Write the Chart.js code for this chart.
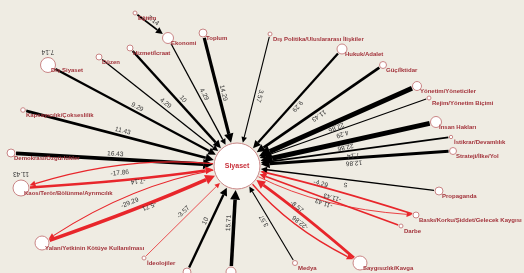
<!DOCTYPE html>
<html>
<head>
<meta charset="utf-8">
<script src="https://cdn.jsdelivr.net/npm/chart.js@4.4.0/dist/chart.umd.min.js"></script>
<style>
  html, body { margin: 0; padding: 0; background: #efece3; }
  canvas { display: block; }
</style>
</head>
<body>
<canvas id="agChart" width="524" height="273"></canvas>
<script>
// nodes (layout coordinates, weight)
const nodeNames = [
  'Siyaset', 'Eğitim', 'Ekonomi', 'Toplum', 'Hizmet/İcraat', 'Düzen', 'Dış Siyaset',
  'Kapsayıcılık/Çokseslilik', 'Demokrasi/Özgürlükler', 'Kaos/Terör/Bölünme/Ayrımcılık',
  'Yalan/Yetkinin Kötüye Kullanılması', 'İdeolojiler', 'Eşitlik', 'Gelecek', 'Medya',
  'Saygısızlık/Kavga', 'Darbe', 'Baskı/Korku/Şiddet/Gelecek Kaygısı', 'Propaganda',
  'Strateji/İlke/Yol', 'İstikrar/Devamlılık', 'İnsan Hakları', 'Rejim/Yönetim Biçimi',
  'Yönetim/Yöneticiler', 'Güç/İktidar', 'Hukuk/Adalet', 'Dış Politika/Uluslararası İlişkiler'
];
const nodeX = [237, 135, 168, 203, 130, 99, 48, 23, 11, 21, 42, 144, 187, 231, 295, 360, 401, 416, 439, 453, 451, 436, 429, 417, 383, 342, 270];
const nodeY = [166, 13, 38, 33, 48, 57, 65, 110, 153, 188, 243, 258, 272, 272, 263, 263, 226, 215, 191, 151, 137, 122, 98, 86, 65, 49, 34];
const nodeSize = [23, 2, 5.5, 4, 3, 3, 7.5, 2.3, 4, 8, 7, 2, 4, 5, 2.5, 7, 2, 3, 4, 3.5, 1.7, 5.5, 2, 4.5, 3.5, 5, 2];

// edges
const edgeFrom = [
  'Eğitim', 'Ekonomi', 'Toplum', 'Hizmet/İcraat', 'Düzen', 'Dış Siyaset',
  'Kapsayıcılık/Çokseslilik', 'Demokrasi/Özgürlükler',
  'Kaos/Terör/Bölünme/Ayrımcılık', 'Siyaset',
  'Yalan/Yetkinin Kötüye Kullanılması', 'Siyaset',
  'İdeolojiler', 'Eşitlik', 'Gelecek', 'Medya',
  'Saygısızlık/Kavga', 'Siyaset', 'Darbe',
  'Baskı/Korku/Şiddet/Gelecek Kaygısı', 'Siyaset',
  'Propaganda', 'Strateji/İlke/Yol', 'İstikrar/Devamlılık', 'İnsan Hakları',
  'Rejim/Yönetim Biçimi', 'Yönetim/Yöneticiler', 'Güç/İktidar', 'Hukuk/Adalet',
  'Dış Politika/Uluslararası İlişkiler'
];
const edgeTo = [
  'Ekonomi', 'Siyaset', 'Siyaset', 'Siyaset', 'Siyaset', 'Siyaset',
  'Siyaset', 'Siyaset',
  'Siyaset', 'Kaos/Terör/Bölünme/Ayrımcılık',
  'Siyaset', 'Yalan/Yetkinin Kötüye Kullanılması',
  'Siyaset', 'Siyaset', 'Siyaset', 'Siyaset',
  'Siyaset', 'Saygısızlık/Kavga', 'Siyaset',
  'Siyaset', 'Baskı/Korku/Şiddet/Gelecek Kaygısı',
  'Siyaset', 'Siyaset', 'Siyaset', 'Siyaset',
  'Siyaset', 'Siyaset', 'Siyaset', 'Siyaset',
  'Siyaset'
];
const edgeWeight = [
  7.14, 4.29, 14.29, 10, 4.29, 9.29,
  11.43, 16.43,
  -17.86, -7.14,
  -29.29, -5.71,
  -3.57, 10, 15.71, 3.57,
  -22.86, -8.57, -11.43,
  -11.43, -4.29,
  5, 12.86, 7.14, 22.86,
  4.29, 22.86, 11.43, 9.29,
  3.57
];

// self loops (only their labels show)
const loopNodes = ['Dış Siyaset', 'Kaos/Terör/Bölünme/Ayrımcılık'];
const loopWeights = [7.14, 11.43];

const idx = name => nodeNames.indexOf(name);

const edgePlugin = {
  id: 'edges',
  beforeDatasetsDraw(chart) {
    const ctx = chart.ctx, sx = chart.scales.x, sy = chart.scales.y;
    ctx.save();
    edgeFrom.forEach((from, k) => {
      const a = idx(from), b = idx(edgeTo[k]);
      const w = edgeWeight[k];
      const x1 = sx.getPixelForValue(nodeX[a]), y1 = sy.getPixelForValue(nodeY[a]);
      const x2 = sx.getPixelForValue(nodeX[b]), y2 = sy.getPixelForValue(nodeY[b]);
      const dx = x2 - x1, dy = y2 - y1;
      // curve the edge when the pair goes both ways
      let bend = 0;
      const r = edgeFrom.findIndex((f, j) => f === edgeTo[k] && edgeTo[j] === from);
      if (r >= 0) bend = Math.abs(w) >= Math.abs(edgeWeight[r]) ? 0.02 : 0.1;
      const cx = (x1 + x2) / 2 - dy * bend, cy = (y1 + y2) / 2 + dx * bend;
      let ux = cx - x1, uy = cy - y1, ul = Math.hypot(ux, uy);
      let vx = x2 - cx, vy = y2 - cy, vl = Math.hypot(vx, vy);
      ux /= ul; uy /= ul; vx /= vl; vy /= vl;
      const ra = nodeSize[a] + 1, rb = nodeSize[b] + 1;
      const sX = x1 + ux * ra, sY = y1 + uy * ra;
      const eX = x2 - vx * rb, eY = y2 - vy * rb;
      const lw = w < 0 ? 0.4 + Math.abs(w) * 0.11 : 0.4 + w * 0.2;
      const al = 4 + lw * 1.6, aw = 1.8 + lw * 0.9;
      const bX = eX - vx * al, bY = eY - vy * al;
      const col = w < 0 ? '#e8262b' : '#000000';
      ctx.strokeStyle = col;
      ctx.fillStyle = col;
      ctx.lineWidth = lw;
      ctx.beginPath();
      ctx.moveTo(sX, sY);
      if (bend) ctx.quadraticCurveTo(cx, cy, bX, bY);
      else ctx.lineTo(bX, bY);
      ctx.stroke();
      ctx.beginPath();
      ctx.moveTo(eX, eY);
      ctx.lineTo(bX - vy * aw, bY + vx * aw);
      ctx.lineTo(bX + vy * aw, bY - vx * aw);
      ctx.closePath();
      ctx.fill();
    });
    ctx.restore();
  },
  afterDatasetsDraw(chart) {
    const ctx = chart.ctx, sx = chart.scales.x, sy = chart.scales.y;
    ctx.save();
    // edge labels
    ctx.font = '6.5px "Liberation Sans", Arial, sans-serif';
    ctx.fillStyle = '#333333';
    ctx.textAlign = 'center';
    ctx.textBaseline = 'middle';
    edgeFrom.forEach((from, k) => {
      const a = idx(from), b = idx(edgeTo[k]);
      const x1 = sx.getPixelForValue(nodeX[a]), y1 = sy.getPixelForValue(nodeY[a]);
      const x2 = sx.getPixelForValue(nodeX[b]), y2 = sy.getPixelForValue(nodeY[b]);
      const t = 0.46;
      ctx.save();
      ctx.translate(x1 + (x2 - x1) * t, y1 + (y2 - y1) * t);
      ctx.rotate(Math.atan2(y2 - y1, x2 - x1));
      ctx.fillText(String(edgeWeight[k]), 0, -5);
      ctx.restore();
    });
    loopNodes.forEach((n, k) => {
      const i = idx(n);
      ctx.save();
      ctx.translate(sx.getPixelForValue(nodeX[i]), sy.getPixelForValue(nodeY[i]) - nodeSize[i] - 6);
      ctx.rotate(Math.PI);
      ctx.fillText(String(loopWeights[k]), 0, 0);
      ctx.restore();
    });
    // node labels
    nodeNames.forEach((n, i) => {
      const x = sx.getPixelForValue(nodeX[i]), y = sy.getPixelForValue(nodeY[i]);
      if (i === 0) {
        ctx.font = 'bold 7px "Liberation Sans", Arial, sans-serif';
        ctx.fillStyle = '#c8303a';
        ctx.textAlign = 'center';
        ctx.fillText(n, x, y);
      } else {
        ctx.font = 'bold 6px "Liberation Sans", Arial, sans-serif';
        ctx.fillStyle = '#a3343c';
        ctx.textAlign = 'left';
        ctx.fillText(n, x + 3, y + 5);
      }
    });
    ctx.restore();
  }
};

new Chart(document.getElementById('agChart').getContext('2d'), {
  type: 'scatter',
  data: {
    datasets: [{
      data: nodeNames.map((n, i) => ({ x: nodeX[i], y: nodeY[i] })),
      pointRadius: nodeSize,
      pointHoverRadius: nodeSize,
      pointBackgroundColor: '#ffffff',
      pointBorderColor: '#c98585',
      pointBorderWidth: 1,
      clip: false
    }]
  },
  options: {
    responsive: false,
    animation: false,
    layout: { padding: 0, autoPadding: false },
    scales: {
      x: { type: 'linear', min: 0, max: 524, display: false },
      y: { type: 'linear', min: 0, max: 273, reverse: true, display: false }
    },
    plugins: { legend: { display: false }, tooltip: { enabled: false } }
  },
  plugins: [edgePlugin]
});
</script>
</body>
</html>
